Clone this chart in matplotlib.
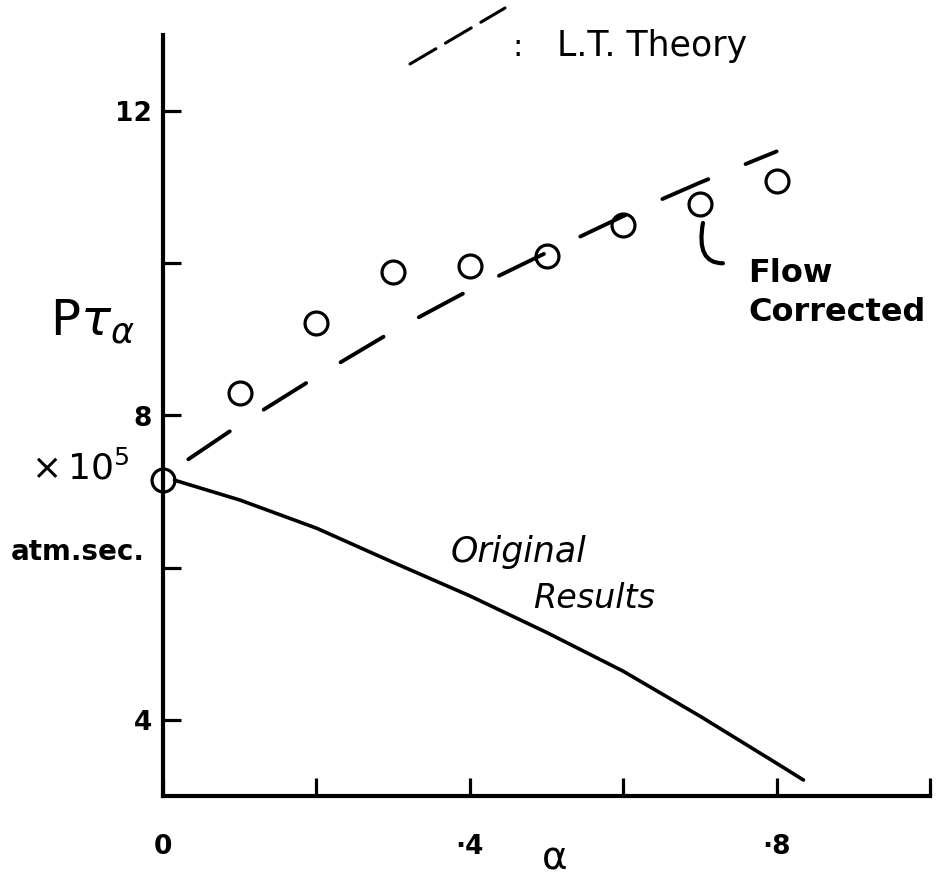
import matplotlib
matplotlib.use("Agg")
import matplotlib.pyplot as plt
from matplotlib.lines import Line2D
from matplotlib.path import Path
from matplotlib.patches import PathPatch

plt.rcParams["font.family"] = ["DejaVu Sans"]
plt.rcParams["lines.scale_dashes"] = False

# alpha values and P*tau_alpha (x 10^5 atm.sec.)
alpha_pts = [0.0, 0.1, 0.2, 0.3, 0.4, 0.5, 0.6, 0.7, 0.8]
flow_corrected = [7.15, 8.30, 9.22, 9.88, 9.96, 10.09, 10.50, 10.78, 11.08]

theory_alpha = [0.0, 0.1, 0.2, 0.3, 0.4, 0.5, 0.6, 0.7, 0.8]
theory_vals = [7.20, 7.88, 8.51, 9.11, 9.65, 10.14, 10.62, 11.06, 11.47]

original_alpha = [0.015, 0.1, 0.2, 0.3, 0.4, 0.5, 0.6, 0.7, 0.8, 0.835]
original_vals = [7.15, 6.89, 6.52, 6.07, 5.63, 5.15, 4.64, 4.05, 3.43, 3.21]

x_ticks = [0.0, 0.2, 0.4, 0.6, 0.8, 1.0]
x_ticklabels = ["0", "", "·4", "", "·8", ""]
y_ticks = [4, 6, 8, 10, 12]
y_ticklabels = ["4", "", "8", "", "12"]

W, H = 939, 882
fig = plt.figure(figsize=(W / 100, H / 100), dpi=100)
fig.patch.set_facecolor("white")
ax = fig.add_axes([163 / W, 86 / H, 767 / W, 761 / H])
ax.set_xlim(0, 1.0)
ax.set_ylim(3, 13)

for side in ("top", "right"):
    ax.spines[side].set_visible(False)
for side in ("left", "bottom"):
    ax.spines[side].set_linewidth(3.0)
    ax.spines[side].set_capstyle("projecting")

ax.set_xticks(x_ticks, labels=x_ticklabels)
ax.set_yticks(y_ticks, labels=y_ticklabels)
ax.tick_params(axis="both", direction="in", length=13, width=2.3, color="black")
ax.tick_params(axis="x", pad=27, labelsize=19)
ax.tick_params(axis="y", pad=8, labelsize=19)
for lab in ax.get_xticklabels() + ax.get_yticklabels():
    lab.set_fontweight("bold")

# L.T. theory (dashed)
ax.plot(theory_alpha, theory_vals, color="black", lw=2.8,
        linestyle=(43, (36, 29)), solid_capstyle="round",
        dash_capstyle="round")

# original results (solid)
ax.plot(original_alpha, original_vals, color="black", lw=2.6,
        solid_capstyle="round")

# flow corrected points
ax.plot(alpha_pts, flow_corrected, linestyle="none", marker="o",
        markersize=16.5, markerfacecolor="none", markeredgecolor="black",
        markeredgewidth=2.3, clip_on=False, zorder=5)

# curved pointer from the flow-corrected label to the points
verts = [(0.704, 10.53), (0.6945, 10.0), (0.730, 10.0)]
bracket = PathPatch(Path(verts, [Path.MOVETO, Path.CURVE3, Path.CURVE3]),
                    facecolor="none", edgecolor="black", lw=3.0,
                    capstyle="round", transform=ax.transData)
ax.add_patch(bracket)

ax.text(0.763, 9.87, "Flow", fontsize=23, fontweight="bold",
        ha="left", va="center")
ax.text(0.763, 9.36, "Corrected", fontsize=23, fontweight="bold",
        ha="left", va="center")

ax.text(0.375, 6.2, "Original", fontsize=25, style="italic",
        ha="left", va="center")
ax.text(0.483, 5.6, "Results", fontsize=24, style="italic",
        ha="left", va="center")

# key for the dashed line
fig.add_artist(Line2D([410 / W, 505 / W], [1 - 64 / H, 1 - 8 / H],
                      transform=fig.transFigure, color="black", lw=2.2,
                      linestyle=(0, (21.6, 8.0)), dash_capstyle="round"))
fig.text(517 / W, 1 - 47 / H, ":", fontsize=22, ha="center", va="center")
fig.text(557 / W, 1 - 46 / H, "L.T. Theory", fontsize=25,
         ha="left", va="center")

# axis labels
fig.text(92 / W, 1 - 322 / H, r"$\mathrm{P}\tau_{\alpha}$", fontsize=36,
         ha="center", va="center")
fig.text(80 / W, 1 - 468 / H, r"$\times\,10^{5}$", fontsize=26,
         ha="center", va="center")
fig.text(78 / W, 1 - 552 / H, "atm.sec.", fontsize=20, fontweight="bold",
         ha="center", va="center")
fig.text(555 / W, 1 - 858 / H, "α", fontsize=28, ha="center", va="center")

fig.savefig("out.png", dpi=100, facecolor="white")
